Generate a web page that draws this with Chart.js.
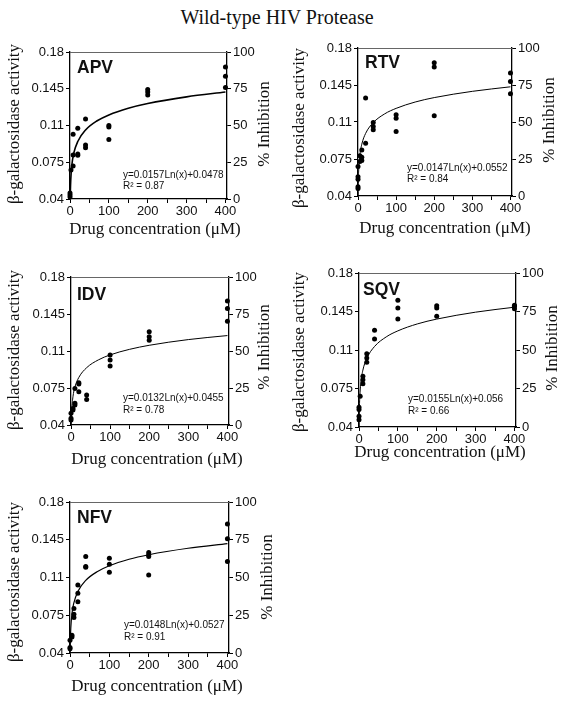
<!DOCTYPE html>
<html><head><meta charset="utf-8">
<script src="https://cdn.jsdelivr.net/npm/chart.js@4.4.0/dist/chart.umd.min.js"></script>
<style>
html,body{margin:0;padding:0;background:#fff;}
#wrap{position:relative;width:571px;height:701px;overflow:hidden;background:#fff;}
#wrap canvas{position:absolute;left:0;top:0;}
#title{position:absolute;left:0;width:554px;top:6px;text-align:center;font:20px "Liberation Serif","Times New Roman",serif;color:#111;line-height:23px;}
</style></head><body>
<div id="wrap">
<div id="title">Wild-type HIV Protease</div>
<canvas id="c0" width="571" height="701"></canvas>
<canvas id="c1" width="571" height="701"></canvas>
<canvas id="c2" width="571" height="701"></canvas>
<canvas id="c3" width="571" height="701"></canvas>
<canvas id="c4" width="571" height="701"></canvas>
</div>
<script>
// ---------- DATA ----------
const drugNames = ['APV', 'RTV', 'IDV', 'SQV', 'NFV'];

const apvConc     = [0, 0, 0, 2.5, 8, 8, 8, 20, 20, 20, 40, 40, 40, 100, 100, 100, 200, 200, 200, 400, 400, 400];
const apvActivity = [0.0458, 0.0439, 0.042, 0.0677, 0.1017, 0.082, 0.0715, 0.1074, 0.0829, 0.0817, 0.1162, 0.0915, 0.0887, 0.110, 0.1086, 0.0966, 0.1442, 0.142, 0.139, 0.1657, 0.1569, 0.1461];

const rtvConc     = [0, 0, 0, 0, 0, 5, 5, 10, 10, 10, 20, 20, 40, 40, 40, 100, 100, 100, 200, 200, 200, 400, 400, 400];
const rtvActivity = [0.0678, 0.0583, 0.0558, 0.0488, 0.0472, 0.078, 0.0726, 0.0836, 0.0767, 0.0735, 0.1326, 0.0899, 0.1095, 0.1057, 0.1026, 0.1168, 0.1136, 0.101, 0.166, 0.162, 0.116, 0.1563, 0.1484, 0.1367];

const idvConc     = [0, 0, 0, 5, 5, 10, 10, 10, 20, 20, 20, 40, 40, 100, 100, 100, 200, 200, 200, 400, 400, 400];
const idvActivity = [0.051, 0.0463, 0.0447, 0.0557, 0.0541, 0.0746, 0.0605, 0.0589, 0.080, 0.0787, 0.0715, 0.0683, 0.0642, 0.1061, 0.1014, 0.0957, 0.1281, 0.1234, 0.1202, 0.1573, 0.1501, 0.1382];

const sqvConc     = [0, 0, 0, 0, 3, 10, 10, 10, 20, 20, 20, 40, 40, 100, 100, 100, 200, 200, 200, 400, 400, 400];
const sqvActivity = [0.0579, 0.0558, 0.0497, 0.0467, 0.0679, 0.0861, 0.083, 0.0794, 0.1067, 0.1027, 0.0988, 0.1279, 0.12, 0.1552, 0.1482, 0.1382, 0.1503, 0.1482, 0.1406, 0.1506, 0.1497, 0.1476];

const nfvConc     = [0, 0, 0, 5, 5, 10, 10, 10, 20, 20, 20, 40, 40, 40, 100, 100, 100, 200, 200, 200, 200, 400, 400, 400];
const nfvActivity = [0.0518, 0.045, 0.044, 0.0564, 0.0549, 0.0813, 0.076, 0.0729, 0.103, 0.0953, 0.0875, 0.1294, 0.1201, 0.1195, 0.1279, 0.1223, 0.1148, 0.1331, 0.131, 0.1294, 0.1123, 0.1595, 0.1459, 0.1248];

// fitted trend curves
const apvFitConc     = [0.6, 1, 2, 5, 10, 20, 40, 70, 100, 150, 200, 300, 400];
const apvFitActivity = [0.040, 0.0478, 0.0587, 0.0731, 0.0840, 0.0948, 0.1057, 0.1145, 0.1201, 0.1265, 0.1310, 0.1373, 0.1419];
const rtvFitConc     = [0.36, 1, 2, 5, 10, 20, 40, 70, 100, 150, 200, 300, 400];
const rtvFitActivity = [0.040, 0.0552, 0.0654, 0.0789, 0.0890, 0.0992, 0.1094, 0.1177, 0.1229, 0.1289, 0.1331, 0.1390, 0.1433];
const idvFitConc     = [0.66, 1, 2, 5, 10, 20, 40, 70, 100, 150, 200, 300, 400];
const idvFitActivity = [0.040, 0.0455, 0.0546, 0.0667, 0.0759, 0.0850, 0.0942, 0.1016, 0.1063, 0.1116, 0.1154, 0.1208, 0.1246];
const sqvFitConc     = [0.36, 1, 2, 5, 10, 20, 40, 70, 100, 150, 200, 300, 400];
const sqvFitActivity = [0.040, 0.056, 0.0667, 0.0809, 0.0917, 0.1024, 0.1132, 0.1219, 0.1274, 0.1337, 0.1381, 0.1444, 0.1489];
const nfvFitConc     = [0.42, 1, 2, 5, 10, 20, 40, 70, 100, 150, 200, 300, 400];
const nfvFitActivity = [0.040, 0.0527, 0.0630, 0.0765, 0.0868, 0.0970, 0.1073, 0.1156, 0.1209, 0.1269, 0.1311, 0.1371, 0.1414];

const equations = ['y=0.0157Ln(x)+0.0478', 'y=0.0147Ln(x)+0.0552', 'y=0.0132Ln(x)+0.0455', 'y=0.0155Ln(x)+0.056', 'y=0.0148Ln(x)+0.0527'];
const rSquared  = ['R\u00B2 = 0.87', 'R\u00B2 = 0.84', 'R\u00B2 = 0.78', 'R\u00B2 = 0.66', 'R\u00B2 = 0.91'];

const yTickValues = [0.04, 0.075, 0.11, 0.145, 0.18];
const yTickLabels = ['0.04', '0.075', '0.11', '0.145', '0.18'];
const inhibitionTickValues = [0, 25, 50, 75, 100];
const xTickValues = [0, 50, 100, 150, 200, 250, 300, 350, 400];
const xTickLabels = ['0', '', '100', '', '200', '', '300', '', '400'];

const yTitle = '\u03B2-galactosidase activity';
const rightTitle = '% Inhibition';
const xTitle = 'Drug concentration (\u03BCM)';

// ---------- LAYOUT ----------
const panelSeries = [
  [apvConc, apvActivity, apvFitConc, apvFitActivity],
  [rtvConc, rtvActivity, rtvFitConc, rtvFitActivity],
  [idvConc, idvActivity, idvFitConc, idvFitActivity],
  [sqvConc, sqvActivity, sqvFitConc, sqvFitActivity],
  [nfvConc, nfvActivity, nfvFitConc, nfvFitActivity]
];
const panelLayout = [
  {area:[70,227,52,199],  yT:[15,124],  rT:[265,124], xT:[155,230], lab:[77,68],   eq:[123,175], r2:[123,186], fitW:1.6},
  {area:[358,512,48,196], yT:[300,128], rT:[550,120], xT:[445,229], lab:[365,63],  eq:[407,168], r2:[407,179], fitW:1.0},
  {area:[71,229,277,425], yT:[15,350],  rT:[265,347], xT:[157,460], lab:[77,295],  eq:[123,398], r2:[123,410], fitW:1.0},
  {area:[359,516,273,427],yT:[300,352], rT:[553,348], xT:[440,453], lab:[363,290], eq:[408,399], r2:[408,411], fitW:1.0},
  {area:[70,229,502,653], yT:[15,582],  rT:[268,577], xT:[157,687], lab:[77,518],  eq:[124,625], r2:[124,637], fitW:1.2}
];

const SANS = '"Liberation Sans", Arial, sans-serif';
const SERIF = '"Liberation Serif", "Times New Roman", serif';
const INK = '#111';

const panelText = {
  id: 'panelText',
  afterDraw(chart, args, o) {
    const ctx = chart.ctx, a = chart.chartArea;
    ctx.save();
    ctx.strokeStyle = '#666'; ctx.lineWidth = 1;
    ctx.beginPath(); ctx.moveTo(a.left, a.top + 0.5); ctx.lineTo(a.right, a.top + 0.5); ctx.stroke();
    ctx.fillStyle = INK;
    ctx.textAlign = 'left'; ctx.textBaseline = 'middle';
    ctx.font = 'bold 17.5px ' + SANS;
    ctx.fillText(o.label, o.lab[0], o.lab[1]);
    ctx.font = '10px ' + SANS;
    ctx.fillText(o.eqText, o.eq[0], o.eq[1]);
    ctx.fillText(o.r2Text, o.r2[0], o.r2[1]);
    ctx.textAlign = 'center';
    ctx.font = '17px ' + SERIF;
    ctx.save(); ctx.translate(o.yT[0], o.yT[1]); ctx.rotate(-Math.PI / 2); ctx.fillText(yTitle, 0, 0); ctx.restore();
    ctx.save(); ctx.translate(o.rT[0], o.rT[1]); ctx.rotate(-Math.PI / 2); ctx.fillText(rightTitle, 0, 0); ctx.restore();
    ctx.fillText(xTitle, o.xT[0], o.xT[1]);
    ctx.restore();
  }
};

const tickFont = {family: SANS, size: 13};

drugNames.forEach((name, k) => {
  const [conc, act, fc, fa] = panelSeries[k];
  const L = panelLayout[k];
  const [left, right, top, bottom] = L.area;
  new Chart(document.getElementById('c' + k), {
    data: {
      datasets: [
        {
          type: 'line',
          data: fc.map((x, i) => ({x: x, y: fa[i]})),
          borderColor: '#000', borderWidth: L.fitW, pointRadius: 0,
          cubicInterpolationMode: 'monotone', fill: false, yAxisID: 'y', clip: false
        },
        {
          type: 'scatter',
          data: conc.map((x, i) => ({x: x, y: act[i]})),
          backgroundColor: '#000', borderColor: '#000', borderWidth: 0,
          pointRadius: 2.5, yAxisID: 'y', clip: false
        }
      ]
    },
    options: {
      responsive: false, animation: false, devicePixelRatio: 1, events: [],
      layout: {padding: {left: left - 40, right: 571 - right - 30, top: top, bottom: 701 - bottom - 25}},
      plugins: {
        legend: {display: false}, tooltip: {enabled: false},
        panelText: {label: name, eqText: equations[k], r2Text: rSquared[k], lab: L.lab, eq: L.eq, r2: L.r2, yT: L.yT, rT: L.rT, xT: L.xT}
      },
      scales: {
        x: {
          type: 'linear', position: 'bottom', min: 0, max: 404,
          afterBuildTicks: s => { s.ticks = xTickValues.map(v => ({value: v})); },
          afterFit: s => { s.height = 25; },
          ticks: {callback: (v, i) => xTickLabels[i], font: tickFont, color: INK, padding: 1, autoSkip: false, maxRotation: 0},
          grid: {drawOnChartArea: false, drawTicks: true, tickLength: 4, color: '#000', lineWidth: 1},
          border: {color: '#000', width: 1.3}
        },
        y: {
          type: 'linear', position: 'left', min: 0.04, max: 0.18,
          afterBuildTicks: s => { s.ticks = yTickValues.map(v => ({value: v})); },
          afterFit: s => { s.width = 40; },
          ticks: {callback: (v, i) => yTickLabels[i], font: tickFont, color: INK, padding: 2},
          grid: {drawOnChartArea: false, drawTicks: true, tickLength: 4, color: '#000', lineWidth: 1},
          border: {color: '#000', width: 1.3}
        },
        y2: {
          type: 'linear', position: 'right', min: 0, max: 100,
          afterBuildTicks: s => { s.ticks = inhibitionTickValues.map(v => ({value: v})); },
          afterFit: s => { s.width = 30; },
          ticks: {font: tickFont, color: INK, padding: 2},
          grid: {drawOnChartArea: false, drawTicks: true, tickLength: 4, color: '#000', lineWidth: 1},
          border: {color: '#000', width: 1.3}
        }
      }
    },
    plugins: [panelText]
  });
});
</script>
</body></html>
